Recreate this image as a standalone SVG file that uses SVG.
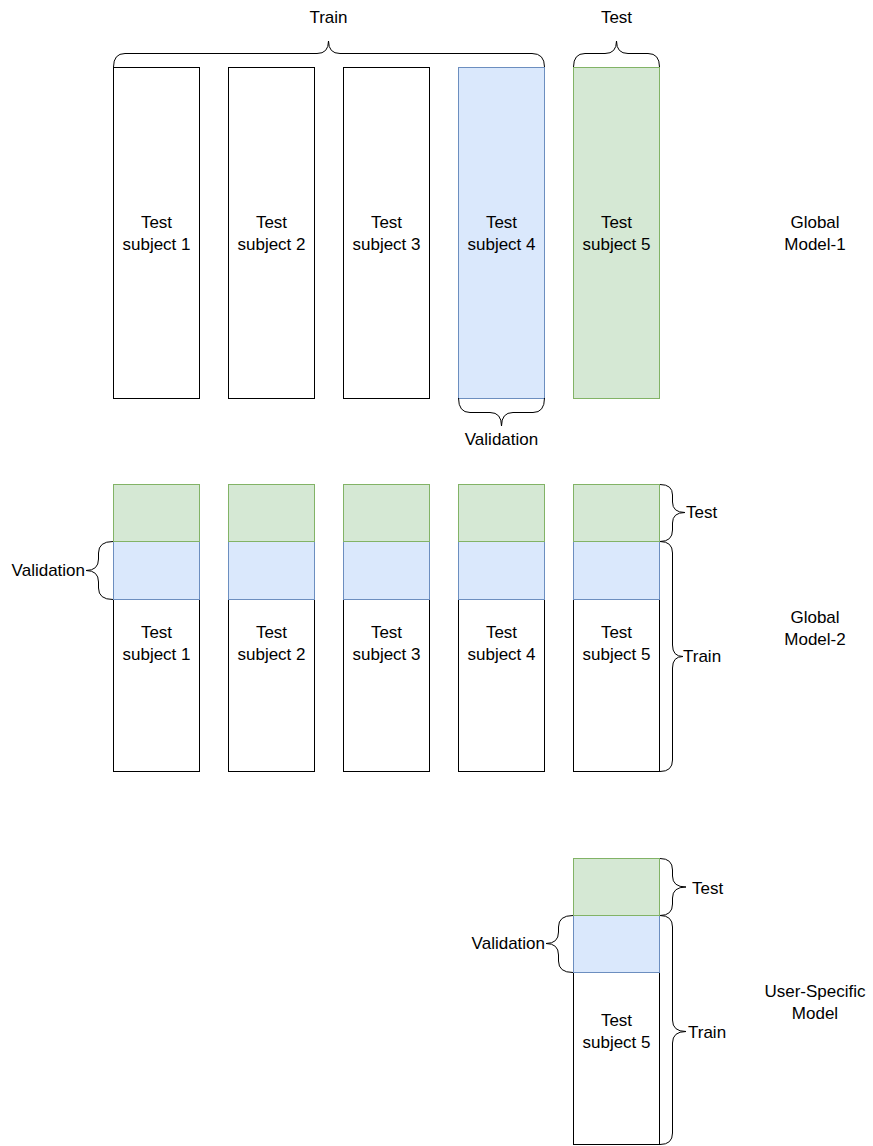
<svg xmlns="http://www.w3.org/2000/svg" width="873" height="1146" viewBox="0 0 873 1146">
<style>
text{font-family:"Liberation Sans",Arial,sans-serif;font-size:17px;fill:#000;dominant-baseline:central}
.m{text-anchor:middle}
.e{text-anchor:end}
.w{fill:#fff;stroke:#000;stroke-width:1}
.g{fill:#d5e8d4;stroke:#82b366;stroke-width:1}
.b{fill:#dae8fc;stroke:#6c8ebf;stroke-width:1}
.br{fill:none;stroke:#000;stroke-width:1}
</style>
<rect width="873" height="1146" fill="#fff"/>
<g id="row1">
<g id="r1s1"><rect class="w" x="113.5" y="67.5" width="86" height="331"/><text class="m" x="156.5" y="222">Test</text><text class="m" x="156.5" y="244">subject 1</text></g>
<g id="r1s2"><rect class="w" x="228.5" y="67.5" width="86" height="331"/><text class="m" x="271.5" y="222">Test</text><text class="m" x="271.5" y="244">subject 2</text></g>
<g id="r1s3"><rect class="w" x="343.5" y="67.5" width="86" height="331"/><text class="m" x="386.5" y="222">Test</text><text class="m" x="386.5" y="244">subject 3</text></g>
<g id="r1s4"><rect class="b" x="458.5" y="67.5" width="86" height="331"/><text class="m" x="501.5" y="222">Test</text><text class="m" x="501.5" y="244">subject 4</text></g>
<g id="r1s5"><rect class="g" x="573.5" y="67.5" width="86" height="331"/><text class="m" x="616.5" y="222">Test</text><text class="m" x="616.5" y="244">subject 5</text></g>
<g id="label1"><text class="m" x="815" y="222">Global</text><text class="m" x="815" y="244">Model-1</text></g>
</g>
<g id="row2">
<g id="r2s1"><rect class="w" x="113.5" y="599.5" width="86" height="172"/><rect class="b" x="113.5" y="541.5" width="86" height="58"/><rect class="g" x="113.5" y="484.5" width="86" height="57"/><text class="m" x="156.5" y="632">Test</text><text class="m" x="156.5" y="654">subject 1</text></g>
<g id="r2s2"><rect class="w" x="228.5" y="599.5" width="86" height="172"/><rect class="b" x="228.5" y="541.5" width="86" height="58"/><rect class="g" x="228.5" y="484.5" width="86" height="57"/><text class="m" x="271.5" y="632">Test</text><text class="m" x="271.5" y="654">subject 2</text></g>
<g id="r2s3"><rect class="w" x="343.5" y="599.5" width="86" height="172"/><rect class="b" x="343.5" y="541.5" width="86" height="58"/><rect class="g" x="343.5" y="484.5" width="86" height="57"/><text class="m" x="386.5" y="632">Test</text><text class="m" x="386.5" y="654">subject 3</text></g>
<g id="r2s4"><rect class="w" x="458.5" y="599.5" width="86" height="172"/><rect class="b" x="458.5" y="541.5" width="86" height="58"/><rect class="g" x="458.5" y="484.5" width="86" height="57"/><text class="m" x="501.5" y="632">Test</text><text class="m" x="501.5" y="654">subject 4</text></g>
<g id="r2s5"><rect class="w" x="573.5" y="599.5" width="86" height="172"/><rect class="b" x="573.5" y="541.5" width="86" height="58"/><rect class="g" x="573.5" y="484.5" width="86" height="57"/><text class="m" x="616.5" y="632">Test</text><text class="m" x="616.5" y="654">subject 5</text></g>
<g id="label2"><text class="m" x="815" y="617">Global</text><text class="m" x="815" y="639">Model-2</text></g>
</g>
<g id="row3">
<g id="r3s5"><rect class="w" x="573.5" y="972.5" width="86" height="172"/><rect class="b" x="573.5" y="915.5" width="86" height="57"/><rect class="g" x="573.5" y="858.5" width="86" height="57"/><text class="m" x="616.5" y="1020">Test</text><text class="m" x="616.5" y="1042">subject 5</text></g>
<g id="label3"><text class="m" x="815" y="991">User-Specific</text><text class="m" x="815" y="1013">Model</text></g>
</g>
<g id="connectors">
<path class="br" d="M113.5,67 Q113.5,53.5 125,53.5 L317,53.5 Q328.5,53.5 328.5,41 Q328.5,53.5 340,53.5 L532,53.5 Q544.5,53.5 544.5,67"/>
<path class="br" d="M573.5,67 Q573.5,53.5 585,53.5 L605,53.5 Q616.5,53.5 616.5,41 Q616.5,53.5 628,53.5 L648,53.5 Q659.5,53.5 659.5,67"/>
<path class="br" d="M458.5,398 Q458.5,412.5 470,412.5 L490,412.5 Q501.5,412.5 501.5,426 Q501.5,412.5 513,412.5 L533,412.5 Q544.5,412.5 544.5,398"/>
<path class="br" d="M113,541.5 Q98.5,541.5 98.5,553 L98.5,559 Q98.5,570.5 86,570.5 Q98.5,570.5 98.5,582 L98.5,588 Q98.5,599.5 113,599.5"/>
<path class="br" d="M660,484.5 Q672.5,484.5 672.5,495 L672.5,502 Q672.5,512.5 685,512.5 Q672.5,512.5 672.5,523 L672.5,530 Q672.5,541.5 660,541.5"/>
<path class="br" d="M660,541.5 Q672.5,541.5 672.5,553 L672.5,645 Q672.5,656.5 683,656.5 Q672.5,656.5 672.5,668 L672.5,760 Q672.5,771.5 660,771.5"/>
<path class="br" d="M660,858.5 Q672.5,858.5 672.5,870 L672.5,876 Q672.5,887 686,887 Q672.5,887 672.5,898 L672.5,904 Q672.5,915.5 660,915.5"/>
<path class="br" d="M660,915.5 Q672.5,915.5 672.5,927 L672.5,1020 Q672.5,1031.5 686,1031.5 Q672.5,1031.5 672.5,1043 L672.5,1133 Q672.5,1144.5 660,1144.5"/>
<path class="br" d="M573,915.5 Q558.5,915.5 558.5,927 L558.5,932 Q558.5,943.5 546,943.5 Q558.5,943.5 558.5,955 L558.5,961 Q558.5,972.5 573,972.5"/>
</g>
<g id="labels">
<text class="m" x="328.5" y="17">Train</text>
<text class="m" x="616.5" y="17">Test</text>
<text class="m" x="501.5" y="439">Validation</text>
<text class="e" x="85" y="570.5">Validation</text>
<text x="686" y="512.5">Test</text>
<text x="683" y="656.5">Train</text>
<text x="692" y="888">Test</text>
<text x="688" y="1032">Train</text>
<text class="e" x="545" y="943.5">Validation</text>
</g>
</svg>
